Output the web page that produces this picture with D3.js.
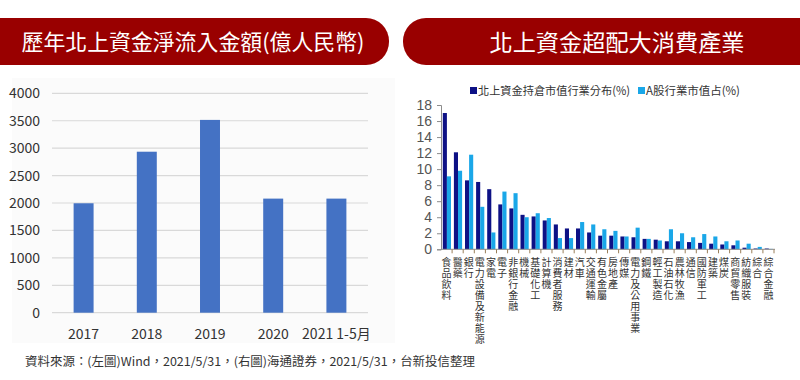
<!DOCTYPE html>
<html>
<head>
<meta charset="utf-8">
<script src="https://cdn.jsdelivr.net/npm/d3@7"></script>
<style>
  body { margin: 0; background: #fff; }
  svg { display: block; }
</style>
</head>
<body>
<svg id="chart" width="800" height="380"></svg>
<script>
// left chart data
var years = ["2017", "2018", "2019", "2020", "2021 1-5月"];
var netInflow = [1995, 2935, 3515, 2080, 2080];
var leftTicks = [0, 500, 1000, 1500, 2000, 2500, 3000, 3500, 4000];

// right chart data
var industries = ["食品飲料", "醫藥", "銀行", "電力設備及新能源", "家電", "電子", "非銀行金融", "機械",
  "基礎化工", "計算機", "消費者服務", "建材", "汽車", "交通運輸", "有色金屬", "房地產", "傳媒",
  "電力及公用事業", "鋼鐵", "輕工製造", "石油石化", "農林牧漁", "通信", "國防軍工", "建築", "煤炭",
  "商貿零售", "紡織服裝", "綜合", "綜合金融"];
var northHold = [17.0, 12.1, 8.6, 8.4, 7.5, 5.6, 5.1, 4.3, 4.1, 3.6, 3.1, 2.6, 2.6, 2.1, 1.7, 1.7, 1.6,
  1.5, 1.3, 1.2, 1.0, 1.0, 0.9, 0.8, 0.7, 0.6, 0.5, 0.2, 0.1, 0.1];
var aShare = [9.1, 9.8, 11.8, 5.3, 2.1, 7.2, 7.0, 4.0, 4.5, 3.9, 1.4, 1.4, 3.4, 3.1, 2.5, 2.3, 1.6,
  2.7, 1.3, 1.1, 2.5, 2.0, 1.5, 1.9, 1.6, 1.0, 1.1, 0.7, 0.3, 0.05];
var seriesNames = ["北上資金持倉市值行業分布(%)", "A股行業市值占(%)"];
var rightTicks = [0, 2, 4, 6, 8, 10, 12, 14, 16, 18];

var red = "#990000";
var cjk = "'Noto Sans CJK TC', sans-serif";
var narrow = "'Liberation Sans Narrow', 'Noto Sans CJK TC', sans-serif";

var svg = d3.select("#chart");

// title banners
var banner = svg.append("g");
banner.append("rect").attr("x", -30).attr("y", 18).attr("width", 419).attr("height", 47)
  .attr("rx", 23).attr("fill", red);
banner.append("rect").attr("x", 403).attr("y", 18).attr("width", 430).attr("height", 47)
  .attr("rx", 23).attr("fill", red);
banner.append("text").attr("x", 193).attr("y", 50).attr("text-anchor", "middle")
  .attr("fill", "#fff").style("font-family", cjk).style("font-size", "22px")
  .attr("textLength", 343).attr("lengthAdjust", "spacingAndGlyphs")
  .text("歷年北上資金淨流入金額(億人民幣)");
banner.append("text").attr("x", 617).attr("y", 51).attr("text-anchor", "middle")
  .attr("fill", "#fff").style("font-family", cjk).style("font-size", "23px")
  .attr("textLength", 255).attr("lengthAdjust", "spacingAndGlyphs")
  .text("北上資金超配大消費產業");

// ---- left chart ----
svg.append("rect").attr("x", 12).attr("y", 78).attr("width", 383).attr("height", 265)
  .attr("fill", "#fbfbfb");

var x1 = d3.scaleBand().domain(years).range([52, 368]).paddingInner(0.684).paddingOuter(0.342);
var y1 = d3.scaleLinear().domain([0, 4000]).range([312.7, 93.3]);

var left = svg.append("g");
left.selectAll(".grid").data(leftTicks).enter().append("line")
  .attr("x1", 52).attr("x2", 368)
  .attr("y1", function(d) { return y1(d); }).attr("y2", function(d) { return y1(d); })
  .attr("stroke", "#d9d9d9").attr("stroke-width", 1.2);

var yAxis1 = left.append("g").attr("transform", "translate(46,0)")
  .call(d3.axisLeft(y1).tickValues(leftTicks).tickFormat(d3.format("d")).tickSize(0).tickPadding(6));
yAxis1.select(".domain").remove();
yAxis1.selectAll("text").attr("fill", "#333").style("font-family", narrow).style("font-size", "14px");

left.selectAll(".bar").data(netInflow).enter().append("rect")
  .attr("x", function(d, i) { return x1(years[i]); })
  .attr("y", function(d) { return y1(d); })
  .attr("width", x1.bandwidth())
  .attr("height", function(d) { return y1(0) - y1(d); })
  .attr("fill", "#4472c4");

var xAxis1 = left.append("g").attr("transform", "translate(0,320)")
  .call(d3.axisBottom(x1).tickSize(0).tickPadding(9));
xAxis1.select(".domain").remove();
xAxis1.selectAll("text").attr("fill", "#333").style("font-family", narrow).style("font-size", "14px");

// ---- right chart ----
var x2 = d3.scaleBand().domain(industries).range([441, 774]);
var sub = d3.scaleBand().domain([0, 1]).range([1.8, 10]);
var y2 = d3.scaleLinear().domain([0, 18]).range([249.3, 105]);
var colors = ["#0d1185", "#1aa7e8"];

var right = svg.append("g");
[northHold, aShare].forEach(function(vals, s) {
  right.selectAll(".s" + s).data(vals).enter().append("rect")
    .attr("x", function(d, i) { return x2(industries[i]) + sub(s); })
    .attr("y", function(d) { return y2(d); })
    .attr("width", sub.bandwidth())
    .attr("height", function(d) { return y2(0) - y2(d); })
    .attr("fill", colors[s]);
});

var yAxis2 = right.append("g").attr("transform", "translate(441,0)")
  .call(d3.axisLeft(y2).tickValues(rightTicks).tickSize(4).tickPadding(5));
yAxis2.selectAll("path, line").attr("stroke", "#8c8c8c");
yAxis2.selectAll("text").attr("fill", "#555").style("font-family", "'Liberation Sans', sans-serif")
  .style("font-size", "14px");

// x axis line and boundary ticks
right.append("line").attr("x1", 441).attr("x2", 775).attr("y1", y2(0)).attr("y2", y2(0))
  .attr("stroke", "#8c8c8c");
right.selectAll(".xt").data(industries).enter().append("line")
  .attr("x1", function(d) { return x2(d) + x2.bandwidth(); })
  .attr("x2", function(d) { return x2(d) + x2.bandwidth(); })
  .attr("y1", y2(0)).attr("y2", y2(0) + 4)
  .attr("stroke", "#9a7f5a");

// vertical category labels (top-to-bottom writing)
right.selectAll(".lab").data(industries).enter().append("text")
  .attr("x", function(d) { return x2(d) + x2.bandwidth() / 2; })
  .attr("y", 257)
  .attr("fill", "#333")
  .style("writing-mode", "vertical-rl")
  .style("letter-spacing", "1px")
  .style("font-family", cjk).style("font-size", "10px")
  .text(function(d) { return d; });

// legend
var legend = right.append("g");
var legX = [470, 638];
var legW = [152, 94];
seriesNames.forEach(function(name, s) {
  legend.append("rect").attr("x", legX[s]).attr("y", 87).attr("width", 7).attr("height", 7)
    .attr("fill", colors[s]);
  legend.append("text").attr("x", legX[s] + 8).attr("y", 95).attr("fill", "#333")
    .attr("textLength", legW[s]).attr("lengthAdjust", "spacingAndGlyphs")
    .style("font-family", cjk).style("font-size", "11.5px").text(name);
});

// source note
svg.append("text").attr("x", 25).attr("y", 366).attr("fill", "#333")
  .attr("textLength", 450).attr("lengthAdjust", "spacingAndGlyphs")
  .style("font-family", cjk).style("font-size", "12px")
  .text("資料來源：(左圖)Wind，2021/5/31，(右圖)海通證券，2021/5/31，台新投信整理");
</script>
</body>
</html>
